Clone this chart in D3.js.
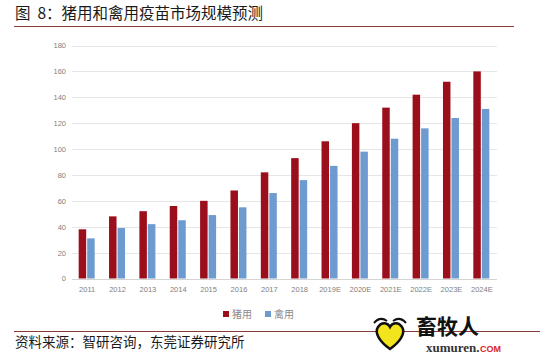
<!DOCTYPE html>
<html><head><meta charset="utf-8">
<script src="https://cdn.jsdelivr.net/npm/d3@7"></script>
<style>body{margin:0;background:#fff;}svg{display:block;}</style>
</head><body>
<svg id="c" width="550" height="355"></svg>
<script>
const categories = ["2011","2012","2013","2014","2015","2016","2017","2018","2019E","2020E","2021E","2022E","2023E","2024E"];
const pigValues = [38, 48, 52, 56, 60, 68, 82, 93, 106, 120, 132, 142, 152, 160];
const poultryValues = [31, 39, 42, 45, 49, 55, 66, 76, 87, 98, 108, 116, 124, 131];
const yTicks = [0, 20, 40, 60, 80, 100, 120, 140, 160, 180];
const seriesNames = ["猪用", "禽用"];
const seriesColors = ["#9b0e1b", "#6e9bcf"];
const titleText = "图\u00a0\u00a08：猪用和禽用疫苗市场规模预测";
const sourceText = "资料来源：智研咨询，东莞证券研究所";

const svg = d3.select("#c");
const font = "'Noto Sans CJK SC', 'Noto Sans', sans-serif";

// Title
svg.append("text").attr("x", 15).attr("y", 19).attr("font-family", font)
  .attr("font-size", 15.5).attr("fill", "#1a1a1a").text(titleText);
svg.append("line").attr("x1", 14).attr("x2", 514).attr("y1", 26.5).attr("y2", 26.5)
  .attr("stroke", "#8a3a36").attr("stroke-width", 1);

const x = d3.scaleBand().domain(categories).range([72, 497]).padding(0);
const y = d3.scaleLinear().domain([0, 180]).range([278.5, 45.5]);
const sub = d3.scaleBand().domain([0, 1]).range([0, 16]).paddingInner(0.12);

// Grid
svg.append("g").selectAll("line").data(yTicks).join("line")
  .attr("x1", 72).attr("x2", 497)
  .attr("y1", d => Math.round(y(d)) + 0.5).attr("y2", d => Math.round(y(d)) + 0.5)
  .attr("stroke", d => d === 0 ? "#d4d4d4" : "#e6e6e6").attr("stroke-width", 1);

// Y axis labels
const yAxis = d3.axisLeft(y).tickValues(yTicks).tickSize(0).tickPadding(0);
const yg = svg.append("g").attr("transform", "translate(66,0)").call(yAxis);
yg.select(".domain").remove();
yg.selectAll("text").attr("font-family", "'Liberation Sans', sans-serif").attr("font-size", 7.5).attr("fill", "#808080");

// X axis labels
const xAxis = d3.axisBottom(x).tickSize(0).tickPadding(0);
const xg = svg.append("g").attr("transform", "translate(0,287)").call(xAxis);
xg.select(".domain").remove();
xg.selectAll("text").attr("font-family", "'Liberation Sans', sans-serif").attr("font-size", 7.5).attr("fill", "#808080");

// Bars
const series = [pigValues, poultryValues];
series.forEach((vals, si) => {
  svg.append("g").selectAll("rect").data(vals).join("rect")
    .attr("x", (d, i) => x(categories[i]) + x.bandwidth() / 2 - 8.5 + sub(si))
    .attr("width", sub.bandwidth())
    .attr("y", d => y(d))
    .attr("height", d => y(0) - y(d))
    .attr("fill", seriesColors[si]);
});

// Legend
const lg = svg.append("g");
const legendX = [223, 265];
seriesNames.forEach((n, i) => {
  lg.append("rect").attr("x", legendX[i]).attr("y", 311).attr("width", 6).attr("height", 6).attr("fill", seriesColors[i]);
  lg.append("text").attr("x", legendX[i] + 9).attr("y", 318).attr("font-family", font)
    .attr("font-size", 10).attr("fill", "#8a8a8a").text(n);
});

// Bottom rule and source
svg.append("line").attr("x1", 14).attr("x2", 540).attr("y1", 331.5).attr("y2", 331.5)
  .attr("stroke", "#8a3a36").attr("stroke-width", 1);
svg.append("text").attr("x", 15).attr("y", 347).attr("font-family", font)
  .attr("font-size", 13.5).attr("fill", "#1a1a1a").text(sourceText);

// Watermark
const wm = svg.append("g");
wm.append("path").attr("d", "M390,349 C380,342 374,333 378,327 C382,321 388,323 390,327 C392,323 398,321 402,327 C406,333 400,342 390,349 Z")
  .attr("fill", "#f2e51d").attr("stroke", "#111").attr("stroke-width", 2.5);
wm.append("path").attr("d", "M374,323 Q380,316 387,321 M393,321 Q400,316 406,323").attr("fill", "none").attr("stroke", "#111").attr("stroke-width", 2);
wm.append("text").attr("x", 416).attr("y", 334).attr("font-family", font).attr("font-weight", "bold")
  .attr("font-size", 21).attr("fill", "#111").text("畜牧人");
const xm = wm.append("text").attr("x", 426).attr("y", 352).attr("font-family", "'Liberation Serif', serif").attr("font-weight", "bold")
  .attr("font-size", 13).attr("fill", "#333").text("xumuren.");
const xmEnd = 426 + xm.node().getComputedTextLength();
wm.append("text").attr("x", xmEnd + 0.5).attr("y", 352).attr("font-family", "'Liberation Sans', sans-serif").attr("font-weight", "bold")
  .attr("font-size", 9).attr("fill", "#d9262c").text("COM");
</script>
</body></html>
